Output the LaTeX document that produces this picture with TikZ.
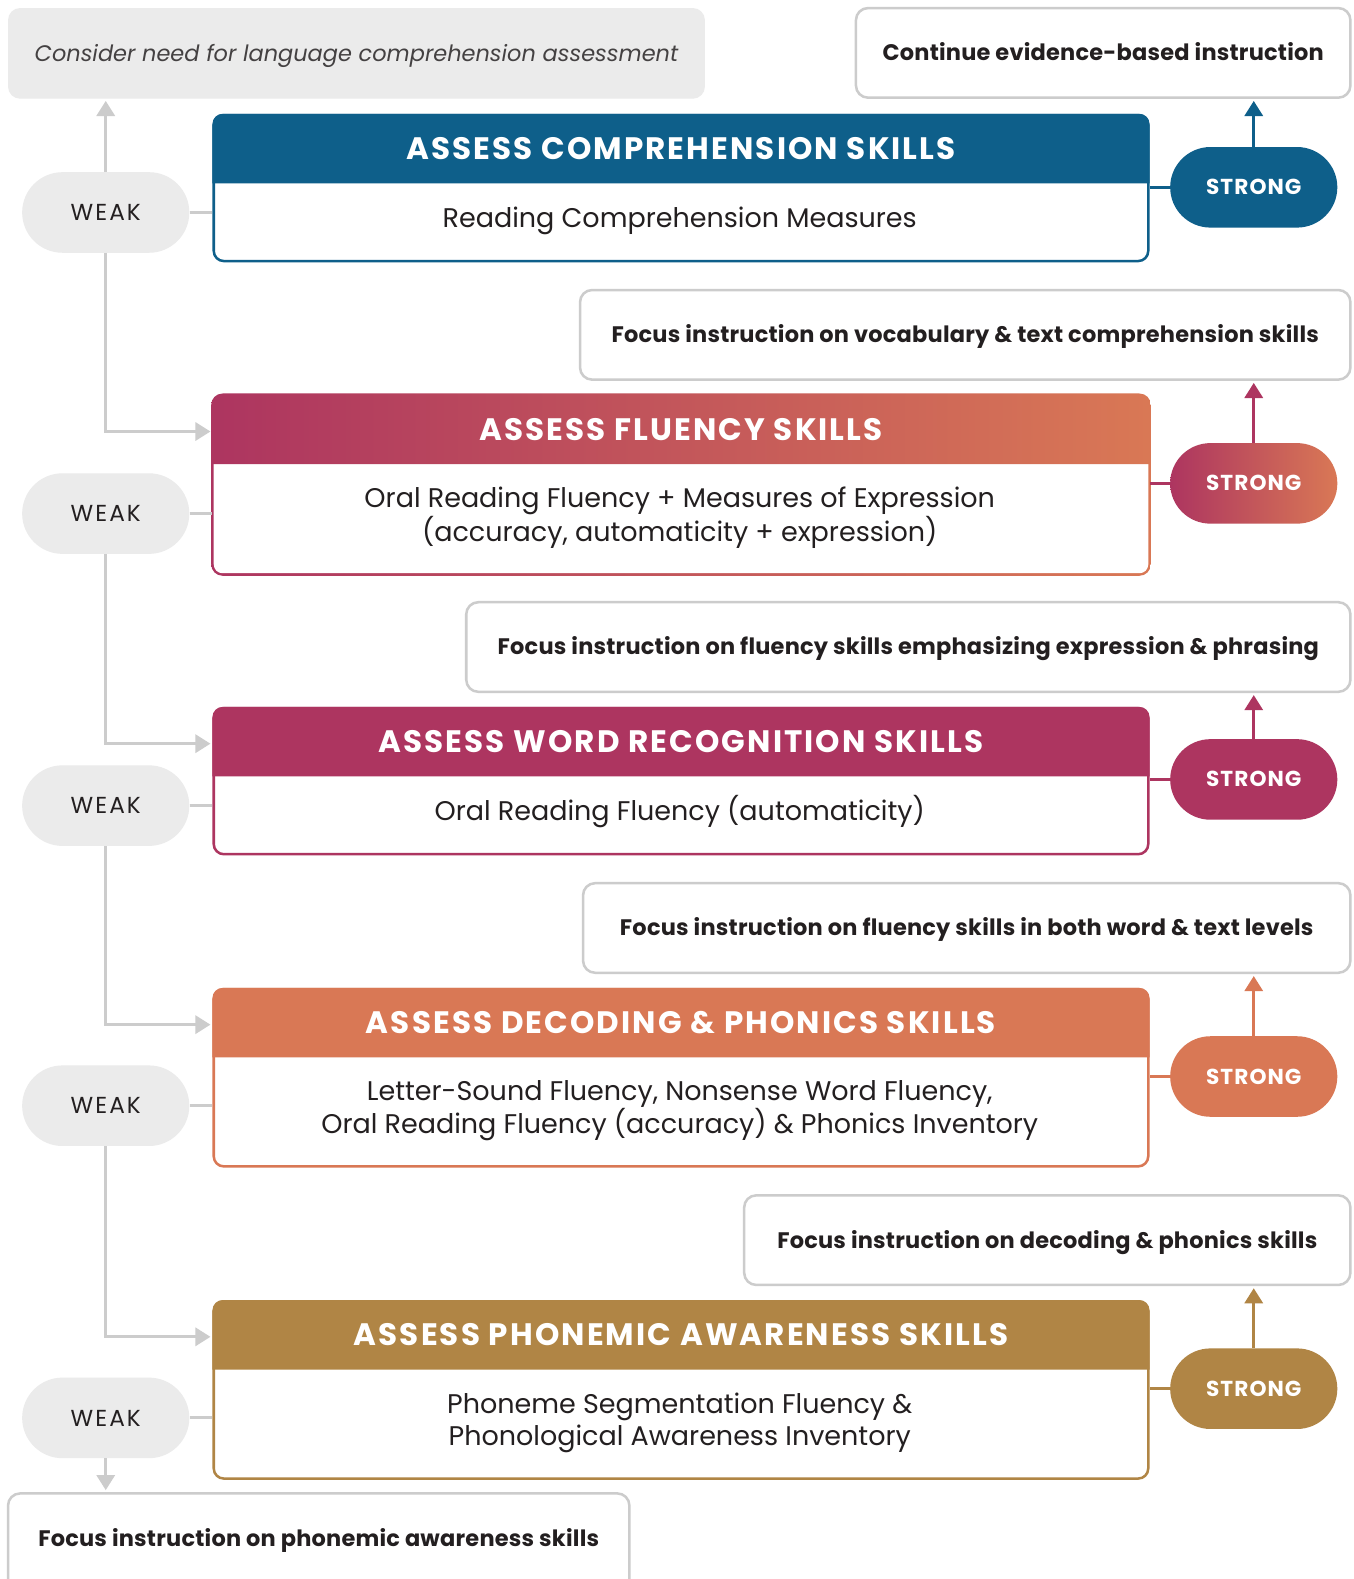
\documentclass[tikz,border=0pt]{standalone}
\usepackage{fontspec}
\setmainfont{Poppins}
\newfontfamily\hfont[LetterSpace=6.8]{Poppins}
\newfontfamily\wfont[LetterSpace=5.0]{Poppins}
\newfontfamily\kfont[LetterSpace=9.0]{Poppins}
\newfontfamily\ofont[LetterSpace=1.0]{Poppins}
\usetikzlibrary{shapes.misc,arrows.meta}
\definecolor{cblue}{RGB}{14,95,138}
\definecolor{cmag}{RGB}{173,53,96}
\definecolor{corg}{RGB}{217,120,85}
\definecolor{cgold}{RGB}{176,133,69}
\definecolor{cgray}{RGB}{235,235,235}
\definecolor{cline}{RGB}{204,204,204}
\definecolor{ctext}{RGB}{35,31,32}
\tikzset{
  assess/.style={draw=#1, fill=white, line width=2.5pt, rounded corners=10pt,
    minimum width=928pt, inner sep=0pt, anchor=north west},
  hdrtext/.style={font=\hfont\bfseries\fontsize{30.8}{34}\selectfont, text=white,
    text height=21.5pt, text depth=0pt, inner sep=0pt},
  bodytext/.style={font=\fontsize{26.8}{32}\selectfont, text=ctext, inner sep=0pt, align=center},
  onebody/.style={bodytext, text height=18.7pt, text depth=0pt},
  outbox/.style={draw=cline, line width=2.5pt, rounded corners=12pt, minimum height=89pt,
    inner sep=0pt, text=ctext, font=\ofont\bfseries\fontsize{22.3}{26}\selectfont,
    text height=15.6pt, text depth=0pt},
  graybox/.style={fill=cgray, rounded corners=12pt, minimum height=90pt, inner sep=0pt,
    text=ctext!85!white, font=\itshape\fontsize{22.3}{26}\selectfont, text height=15.6pt, text depth=0pt},
  spill/.style={shape=rounded rectangle, minimum width=166pt, minimum height=80pt, inner sep=0pt,
    text=white, font=\wfont\bfseries\fontsize{21.5}{24}\selectfont, text height=15pt, text depth=0pt},
  wpill/.style={shape=rounded rectangle, fill=cgray, minimum width=166pt, minimum height=80pt, inner sep=0pt,
    text=ctext, font=\kfont\fontsize{23}{26}\selectfont, text height=16.1pt, text depth=0pt},
  gline/.style={draw=cline, line width=3pt},
  garrow/.style={gline, -{Triangle[width=18pt,length=15pt]}, shorten >=2pt},
  sline/.style={draw=#1, line width=3pt},
  sarrow/.style={sline=#1, -{Triangle[width=18pt,length=15pt]}, shorten >=2pt},
}
\begin{document}
\begin{tikzpicture}[x=1pt,y=-1pt]
\useasboundingbox (0,0) rectangle (1344.5,1568);
\fill[white] (0,0) rectangle (1354,1579);

% ---------- outcome boxes ----------
\node[graybox, minimum width=692pt] (O0) at (354,53) {Consider need for language comprehension assessment};
\node[outbox, minimum width=491pt] (O1) at (1095.5,52.5) {Continue evidence-based instruction};
\node[outbox, minimum width=765pt] (O2) at (958.5,332.5) {Focus instruction on vocabulary \& text comprehension skills};
\node[outbox, minimum width=878pt] (O3) at (902,642.5) {Focus instruction on fluency skills emphasizing expression \& phrasing};
\node[outbox, minimum width=762pt] (O4) at (960,921.5) {Focus instruction on fluency skills in both word \& text levels};
\node[outbox, minimum width=602pt] (O5) at (1040,1231.5) {Focus instruction on decoding \& phonics skills};
\node[outbox, minimum width=617pt, minimum height=107pt] (O6) at (316.5,1536.5) {};
\node[outbox, draw=none, minimum height=0pt, minimum width=0pt] (O6t) at (316.5,1528) {Focus instruction on phonemic awareness skills};

% ---------- assessment boxes ----------
% 1 comprehension
\node[assess=cblue, minimum height=145pt] (B1) at (211,113) {};
\fill[cblue] ([yshift=-69pt]B1.north west) [rounded corners=10pt] -- (B1.north west) -- (B1.north east) [sharp corners] -- ([yshift=-69pt]B1.north east) -- cycle;
\node[hdrtext] (H1) at ([yshift=-34.5pt]B1.north) {ASSESS COMPREHENSION SKILLS};
\node[onebody] (T1) at (675,217) {Reading Comprehension Measures};

% 2 fluency (gradient)
\node[assess=cmag, draw=none, fill=none, minimum height=176pt] (B2) at (211,392) {};
\shade[left color=cmag, right color=corg, rounded corners=11.25pt]
  ([shift={(-1.25pt,1.25pt)}]B2.north west) rectangle ([shift={(1.25pt,-1.25pt)}]B2.south east);
\fill[white, rounded corners=8.75pt]
  ([shift={(1.25pt,-1.25pt)}]B2.north west) rectangle ([shift={(-1.25pt,1.25pt)}]B2.south east);
\shade[left color=cmag, right color=corg] ([yshift=-69pt]B2.north west) [rounded corners=10pt] -- (B2.north west) -- (B2.north east) [sharp corners] -- ([yshift=-69pt]B2.north east) -- cycle;
\node[hdrtext] (H2) at ([yshift=-34.5pt]B2.north) {ASSESS FLUENCY SKILLS};
\node[bodytext] (T2) at (675,514) {Oral Reading Fluency + Measures of Expression\\(accuracy, automaticity + expression)};

% 3 word recognition
\node[assess=cmag, minimum height=145pt] (B3) at (211,702) {};
\fill[cmag] ([yshift=-69pt]B3.north west) [rounded corners=10pt] -- (B3.north west) -- (B3.north east) [sharp corners] -- ([yshift=-69pt]B3.north east) -- cycle;
\node[hdrtext] (H3) at ([yshift=-34.5pt]B3.north) {ASSESS WORD RECOGNITION SKILLS};
\node[onebody] (T3) at (675,805) {Oral Reading Fluency (automaticity)};

% 4 decoding
\node[assess=corg, minimum height=176pt] (B4) at (211,981) {};
\fill[corg] ([yshift=-69pt]B4.north west) [rounded corners=10pt] -- (B4.north west) -- (B4.north east) [sharp corners] -- ([yshift=-69pt]B4.north east) -- cycle;
\node[hdrtext] (H4) at ([yshift=-34.5pt]B4.north) {ASSESS DECODING \& PHONICS SKILLS};
\node[bodytext] (T4) at (675,1103) {Letter-Sound Fluency, Nonsense Word Fluency,\\Oral Reading Fluency (accuracy) \& Phonics Inventory};

% 5 phonemic
\node[assess=cgold, minimum height=176pt] (B5) at (211,1291) {};
\fill[cgold] ([yshift=-69pt]B5.north west) [rounded corners=10pt] -- (B5.north west) -- (B5.north east) [sharp corners] -- ([yshift=-69pt]B5.north east) -- cycle;
\node[hdrtext] (H5) at ([yshift=-34.5pt]B5.north) {ASSESS PHONEMIC AWARENESS SKILLS};
\node[bodytext] (T5) at (675,1413) {Phoneme Segmentation Fluency \&\\Phonological Awareness Inventory};

% ---------- pills ----------
\node[spill, fill=cblue] (S1) at (1245,186) {STRONG};
\node[spill, left color=cmag, right color=corg] (S2) at (1245,480) {STRONG};
\node[spill, fill=cmag] (S3) at (1245,774) {STRONG};
\node[spill, fill=corg] (S4) at (1245,1069) {STRONG};
\node[spill, fill=cgold] (S5) at (1245,1379) {STRONG};

\node[wpill] (W1) at (105,211) {WEAK};
\node[wpill] (W2) at (105,510) {WEAK};
\node[wpill] (W3) at (105,800) {WEAK};
\node[wpill] (W4) at (105,1098) {WEAK};
\node[wpill] (W5) at (105,1408) {WEAK};

% ---------- strong connectors ----------
\draw[sline=cblue] (S1.west) -- (S1.west -| B1.east);
\draw[sarrow=cblue] (S1.north) -- (S1.north |- O1.south);
\draw[sline=cmag] (S2.west) -- (S2.west -| B2.east);
\draw[sarrow=cmag] (S2.north) -- (S2.north |- O2.south);
\draw[sline=cmag] (S3.west) -- (S3.west -| B3.east);
\draw[sarrow=cmag] (S3.north) -- (S3.north |- O3.south);
\draw[sline=corg] (S4.west) -- (S4.west -| B4.east);
\draw[sarrow=corg] (S4.north) -- (S4.north |- O4.south);
\draw[sline=cgold] (S5.west) -- (S5.west -| B5.east);
\draw[sarrow=cgold] (S5.north) -- (S5.north |- O5.south);

% ---------- weak connectors ----------
\draw[gline] (W1.east) -- (W1.east -| B1.west);
\draw[gline] (W2.east) -- (W2.east -| B2.west);
\draw[gline] (W3.east) -- (W3.east -| B3.west);
\draw[gline] (W4.east) -- (W4.east -| B4.west);
\draw[gline] (W5.east) -- (W5.east -| B5.west);
\draw[garrow] (W1.north) -- (W1.north |- O0.south);
\draw[garrow] (W1.south) |- ([yshift=-2pt]H2.center -| B2.west);
\draw[garrow] (W2.south) |- ([yshift=-2pt]H3.center -| B3.west);
\draw[garrow] (W3.south) |- ([yshift=-2pt]H4.center -| B4.west);
\draw[garrow] (W4.south) |- ([yshift=-2pt]H5.center -| B5.west);
\draw[garrow] (W5.south) -- (W5.south |- O6.north);
\end{tikzpicture}
\end{document}
